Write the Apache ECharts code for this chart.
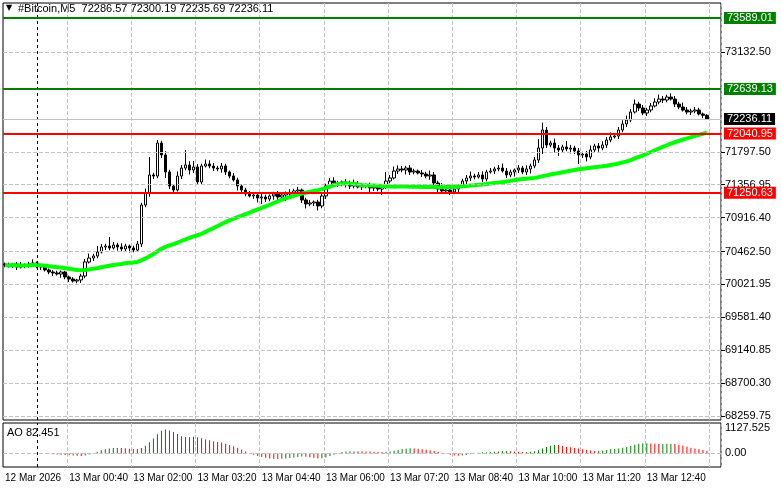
<!DOCTYPE html>
<html><head><meta charset="utf-8">
<script src="https://cdn.jsdelivr.net/npm/echarts@6/dist/echarts.min.js"></script>
<style>html,body{margin:0;padding:0;background:#fff}#c{width:781px;height:489px}</style>
</head><body><div id="c"></div>
<script>
const closes = [
70282,70268,70295,70255,70282,70268,70295,70308,70268,70255,70215,70188,70175,70161,70188,70121,
70094,70067,70081,70134,70322,70375,70402,70456,70523,70536,70509,70549,70523,70496,70536,70509,
70482,70563,71085,71246,71487,71473,71915,71755,71527,71339,71286,71473,71580,71621,71554,71594,
71393,71607,71634,71607,71580,71567,71607,71527,71473,71420,71339,71286,71232,71206,71219,71179,
71192,71165,71206,71232,71192,71219,71246,71232,71273,71286,71152,71099,71112,71125,71072,71206,
71339,71406,71380,71366,71393,71380,71339,71366,71326,71339,71353,71313,71326,71299,71339,71406,
71447,71540,71567,71554,71580,71527,71540,71514,71500,71473,71487,71380,71299,71273,71286,71259,
71299,71339,71406,71447,71473,71460,71487,71433,71527,71540,71567,71580,71540,71487,71527,71554,
71580,71527,71567,71607,71688,71848,72089,71888,71915,71848,71822,71862,71835,71848,71808,71755,
71768,71728,71822,71875,71848,71888,71955,71996,72009,72089,72170,72223,72330,72437,72384,72317,
72357,72411,72464,72504,72491,72531,72504,72437,72397,72357,72330,72344,72357,72304,72286.57,72236.11];
const firstOpen = 70295;
const wickUp = [
20,30,15,25,40,20,30,50,20,15,30,20,25,30,20,15,
20,25,15,30,40,60,30,80,40,30,120,40,30,50,30,20,
30,40,30,60,240,30,40,30,50,30,20,60,40,200,50,80,
40,30,60,50,40,30,40,30,20,40,30,20,30,40,20,30,
40,30,20,30,40,30,20,50,30,40,20,30,40,20,30,40,
30,40,50,30,20,40,30,60,40,30,20,30,40,30,20,120,
40,60,50,40,30,40,30,20,40,30,60,40,30,80,40,30,
40,20,30,40,60,30,40,50,30,40,30,40,60,40,30,20,
40,30,50,30,40,120,100,40,30,60,40,30,80,40,30,40,
30,40,60,30,40,50,40,60,30,40,50,60,40,60,30,40,
30,40,50,60,40,30,50,40,30,60,40,30,40,30,20,14];
const wickDown = [
30,20,25,40,20,30,20,15,30,40,20,30,40,20,50,30,
40,20,30,40,30,20,40,30,20,40,30,20,50,30,40,60,
30,20,40,30,50,40,30,40,80,40,30,20,40,30,60,40,
30,40,20,30,40,30,50,40,30,20,60,40,30,20,40,60,
80,40,30,50,40,30,80,40,30,20,40,60,30,40,60,30,
40,30,20,40,30,60,40,30,20,40,30,60,40,30,80,40,
30,20,40,30,60,40,30,20,40,30,50,60,40,30,20,40,
30,40,20,60,40,30,20,40,30,20,40,30,20,40,30,60,
40,30,40,60,30,40,80,40,30,60,80,40,30,60,40,120,
40,60,30,40,50,30,40,30,20,40,30,40,30,20,40,30,
40,30,20,30,40,30,20,40,30,20,30,40,30,20,40,0.42];
const tickLabels = ["12 Mar 2026","13 Mar 00:40","13 Mar 02:00","13 Mar 03:20","13 Mar 04:40","13 Mar 06:00","13 Mar 07:20","13 Mar 08:40","13 Mar 10:00","13 Mar 11:20","13 Mar 12:40"];
const priceTicks = [73132.50,71797.50,71356.95,70916.40,70462.50,70021.95,69581.40,69140.85,68700.30,68259.75];
const levelsGreen = [73589.01,72639.13];
const levelsRed = [72040.95,71250.63];
const lastPrice = 72236.11;
const aoTicks = [1127.525,0,-379.631];
const header = "#Bitcoin,M5  72286.57 72300.19 72235.69 72236.11";
const maPeriod = 50;
const emptySlots = 3;

const n = closes.length;
const cats = [], ohlc = [], med = [];
for (let i=0;i<n;i++){
  const o = i===0?firstOpen:closes[i-1], c = closes[i];
  const h = Math.max(o,c)+wickUp[i], l = Math.min(o,c)-wickDown[i];
  ohlc.push([o,c,l,h]); med.push((h+l)/2);
}
for (let i=0;i<n+emptySlots;i++) cats.push(String(i));
function sma(arr,p,i){let s=0,k=0;for(let j=Math.max(0,i-p+1);j<=i;j++){s+=arr[j];k++;}return s/k;}
const ma = closes.map((_,i)=>+sma(closes,maPeriod,i).toFixed(2));
const ao = med.map((_,i)=>+(sma(med,5,i)-sma(med,34,i)).toFixed(3));
const aoData = ao.map((v,i)=>({value:v,itemStyle:{color:(i>0&&v>ao[i-1])?'#008000':'#ff0000'}}));

const font = 'Liberation Sans';
const lbl = {fontFamily:font,fontSize:11,color:'#000'};
const gridLine = {type:'dashed',color:'#c0c0c0',width:1};
function lvl(v,col,w,bg){return {yAxis:v,lineStyle:{color:col,width:w,type:'solid'},label:{show:true,position:'end',formatter:v.toFixed(2),backgroundColor:bg,color:'#fff',fontFamily:font,fontSize:11,padding:[1,3,0,3],distance:3}};}

const chart = echarts.init(document.getElementById('c'));
chart.setOption({
  animation:false,
  grid:[{left:3,right:60,top:3,height:417,show:true,borderColor:'#000',borderWidth:1},
        {left:3,right:60,top:423,height:44,show:true,borderColor:'#000',borderWidth:1}],
  xAxis:[
    {type:'category',gridIndex:0,data:cats,axisLine:{show:false},axisTick:{show:false},axisLabel:{show:false},
     splitLine:{show:true,interval:(i)=>i%16===0&&i>0,lineStyle:gridLine}},
    {type:'category',gridIndex:1,data:cats,axisLine:{show:false},axisTick:{show:false},
     axisLabel:{interval:(i)=>i%16===0,formatter:(v,i)=>i%16===0?(tickLabels[i/16]||''):'',align:'left',margin:6,...lbl,fontSize:10},
     splitLine:{show:true,interval:(i)=>i%16===0&&i>0,lineStyle:gridLine}}],
  yAxis:[
    {type:'value',gridIndex:0,position:'right',min:68206,max:73790,axisLine:{show:false},
     axisTick:{show:true,customValues:priceTicks,length:4,lineStyle:{color:'#000'}},
     axisLabel:{customValues:priceTicks,formatter:v=>v.toFixed(2),margin:4,...lbl},splitLine:{show:false}},
    {type:'value',gridIndex:1,position:'right',min:-601,max:1349,axisLine:{show:false},
     axisTick:{show:false},
     axisLabel:{customValues:aoTicks,formatter:v=>v===0?'0.00':String(v),margin:4,...lbl},splitLine:{show:false}}],
  graphic:[
    {type:'text',left:6,top:4,style:{text:'▼',fontSize:8,fill:'#000',fontFamily:'DejaVu Sans'}},
    {type:'text',left:18,top:3,style:{text:header,fontSize:11,fill:'#000',fontFamily:font}},
    {type:'text',left:7,top:427,style:{text:'AO 82.451',fontSize:11,fill:'#000',fontFamily:font}}],
  series:[
    {type:'line',xAxisIndex:0,yAxisIndex:0,data:[],silent:true,
     markLine:{symbol:'none',silent:true,label:{show:false},lineStyle:gridLine,
       data:[...priceTicks.map(v=>({yAxis:v})),{xAxis:8,lineStyle:{color:'#000',type:[3,3],width:1}}]}},
    {type:'candlestick',xAxisIndex:0,yAxisIndex:0,data:ohlc,barWidth:3,
     itemStyle:{color:'#fff',color0:'#000',borderColor:'#000',borderColor0:'#000',borderWidth:1},
     markLine:{symbol:'none',silent:true,
       data:[lvl(lastPrice,'#c0c0c0',1,'#000'),
             ...levelsGreen.map(v=>lvl(v,'#008000',2,'#008000')),
             ...levelsRed.map(v=>lvl(v,'#ff0000',2,'#ff0000'))]}},
    {type:'line',xAxisIndex:0,yAxisIndex:0,data:ma,symbol:'none',lineStyle:{color:'#00ff00',width:4},z:3},
    {type:'bar',xAxisIndex:1,yAxisIndex:1,data:aoData,barWidth:1,
     markLine:{symbol:'none',silent:true,label:{show:false},
       data:[{yAxis:0,lineStyle:gridLine},{xAxis:8,lineStyle:{color:'#000',type:[3,3],width:1}}]}}
  ]
});
</script></body></html>
